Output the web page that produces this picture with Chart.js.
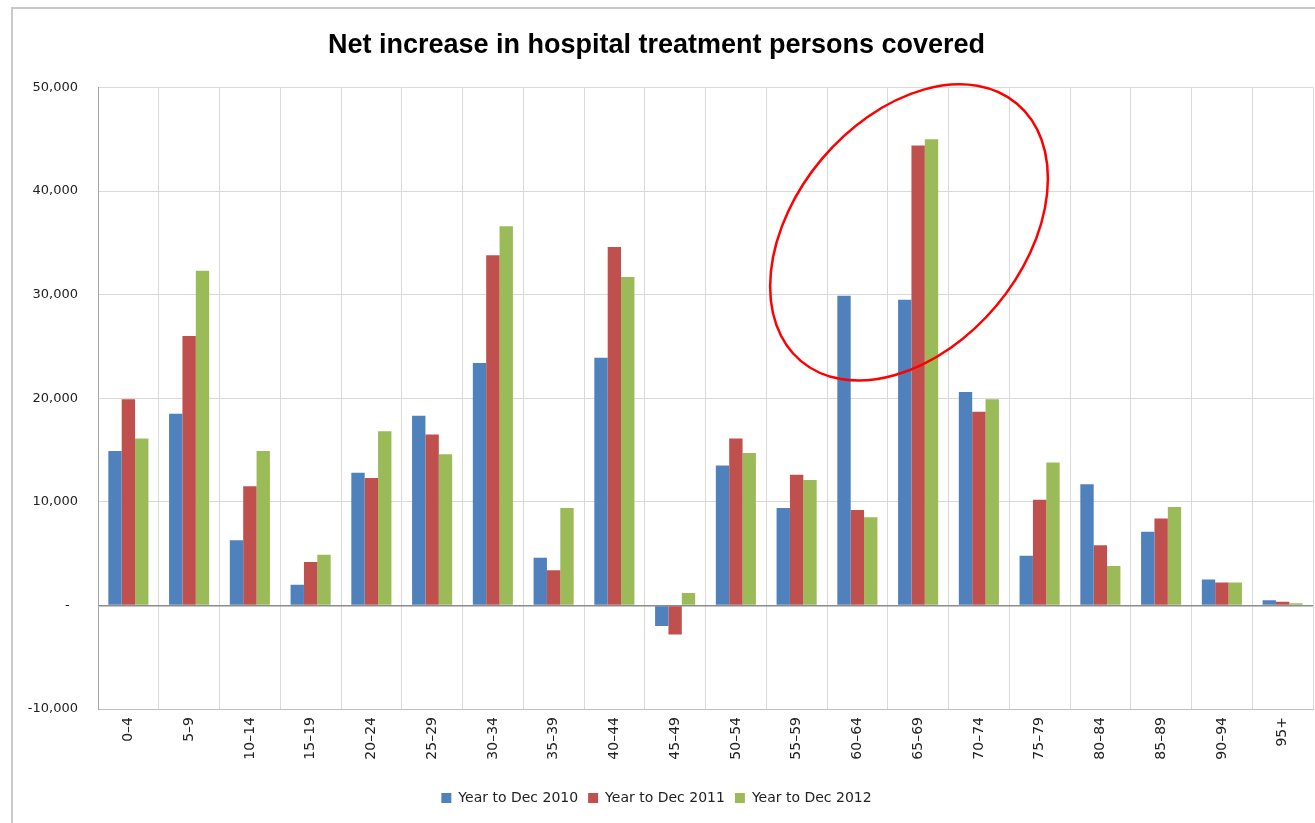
<!DOCTYPE html>
<html>
<head>
<meta charset="utf-8">
<script src="https://cdn.jsdelivr.net/npm/chart.js@4.4.0/dist/chart.umd.min.js"></script>
<style>
  html, body { margin: 0; padding: 0; background: #ffffff; overflow: hidden; }
  #frame { position: absolute; left: 11px; top: 7px; width: 1310px; height: 820px;
           border-left: 2px solid #c9c9c9; border-top: 2px solid #c9c9c9; box-sizing: border-box; }
  #c { position: absolute; left: 0; top: 0; }
</style>
</head>
<body>
<div id="frame"></div>
<canvas id="c" width="1315" height="823"></canvas>
<script>
const categories = ['0–4','5–9','10–14','15–19','20–24','25–29','30–34','35–39','40–44','45–49',
                    '50–54','55–59','60–64','65–69','70–74','75–79','80–84','85–89','90–94','95+'];
const seriesNames = ['Year to Dec 2010', 'Year to Dec 2011', 'Year to Dec 2012'];
const dec2010 = [14900, 18500, 6300, 2000, 12800, 18300, 23400, 4600, 23900, -2000,
                 13500, 9400, 29900, 29500, 20600, 4800, 11700, 7100, 2500, 500];
const dec2011 = [19900, 26000, 11500, 4200, 12300, 16500, 33800, 3400, 34600, -2800,
                 16100, 12600, 9200, 44400, 18700, 10200, 5800, 8400, 2200, 350];
const dec2012 = [16100, 32300, 14900, 4900, 16800, 14600, 36600, 9400, 31700, 1200,
                 14700, 12100, 8500, 45000, 19900, 13800, 3800, 9500, 2200, 200];
const yMin = -10000, yMax = 50000, yStep = 10000;
const titleText = 'Net increase in hospital treatment persons covered';
// highlight ellipse around 60–64 / 65–69 (centre in axis units)
const highlightCentre = { x: 12.85, y: 36000 };

const colors = ['#4F81BD', '#C0504D', '#9BBB59'];
const seriesValues = [dec2010, dec2011, dec2012];

const ellipsePlugin = {
  id: 'highlightEllipse',
  afterDraw(chart) {
    const { ctx, scales } = chart;
    const cx = scales.x.getPixelForValue(highlightCentre.x);
    const cy = scales.y.getPixelForValue(highlightCentre.y);
    ctx.save();
    ctx.beginPath();
    ctx.ellipse(cx, cy, 168, 114, -50 * Math.PI / 180, 0, Math.PI * 2);
    ctx.strokeStyle = '#FF0000';
    ctx.lineWidth = 2.5;
    ctx.stroke();
    ctx.restore();
  }
};

const chart = new Chart(document.getElementById('c'), {
  type: 'bar',
  data: {
    labels: categories,
    datasets: seriesNames.map((name, i) => ({
      label: name,
      data: seriesValues[i],
      backgroundColor: colors[i],
      borderWidth: 0,
      categoryPercentage: 0.66,
      barPercentage: 1.0
    }))
  },
  plugins: [ellipsePlugin],
  options: {
    responsive: false,
    animation: false,
    devicePixelRatio: 1,
    layout: { padding: { top: 10, right: 2, bottom: 8, left: 0 } },
    plugins: {
      title: {
        display: true,
        text: titleText,
        color: '#000000',
        font: { family: 'Liberation Sans', size: 27, weight: 'bold' },
        padding: { top: 19, bottom: 26 }
      },
      legend: {
        display: true,
        position: 'bottom',
        labels: {
          boxWidth: 10, boxHeight: 10, padding: 10,
          color: '#222222',
          font: { family: 'DejaVu Sans', size: 14 }
        }
      },
      tooltip: { enabled: false }
    },
    scales: {
      x: {
        grid: { color: '#d9d9d9', drawTicks: false, offset: true },
        border: { color: '#bfbfbf' },
        ticks: {
          minRotation: 90, maxRotation: 90, autoSkip: false, padding: 8,
          color: '#222222',
          font: { family: 'DejaVu Sans', size: 14 }
        },
        afterFit: (s) => { s.height = 72; }
      },
      y: {
        min: yMin, max: yMax,
        grid: {
          color: (ctx) => (ctx.tick && ctx.tick.value === 0) ? '#8c8c8c' : '#d9d9d9',
          lineWidth: (ctx) => (ctx.tick && ctx.tick.value === 0) ? 1.5 : 1,
          drawTicks: false
        },
        border: { color: '#a6a6a6' },
        ticks: {
          stepSize: yStep, padding: 20,
          color: '#222222',
          font: { family: 'DejaVu Sans', size: 13 },
          callback: (v) => v === 0 ? '-  ' : v.toLocaleString('en-US')
        },
        afterFit: (s) => { s.width = 98; }
      }
    }
  }
});
</script>
</body>
</html>
